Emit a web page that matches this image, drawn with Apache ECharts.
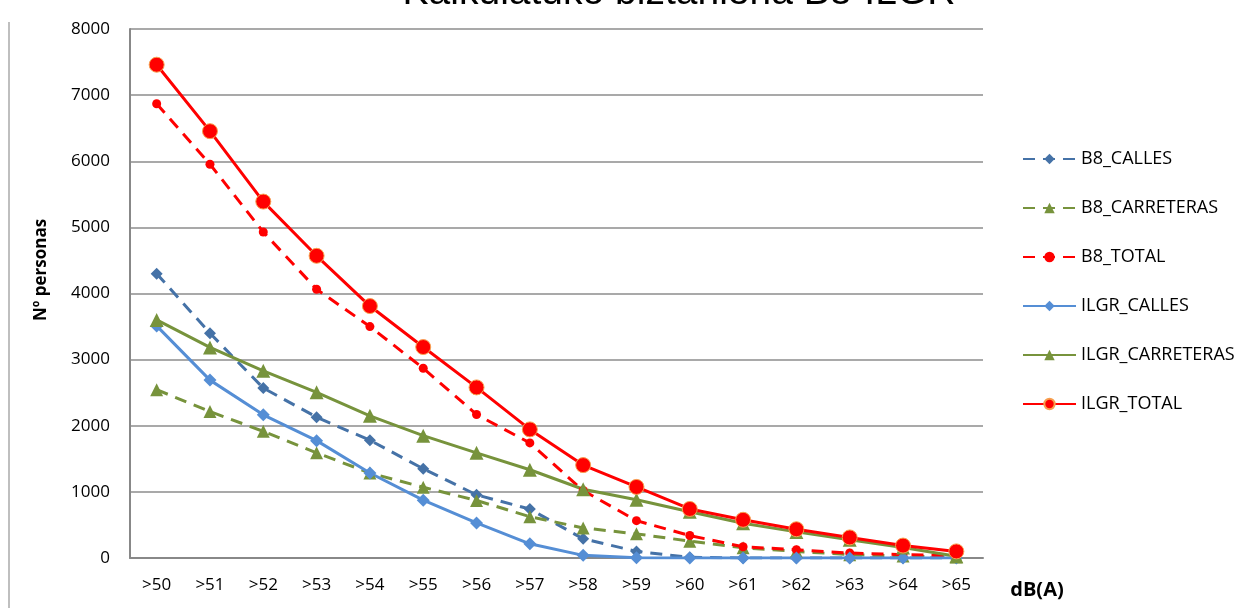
<!DOCTYPE html>
<html>
<head>
<meta charset="utf-8">
<script src="https://cdn.jsdelivr.net/npm/echarts@6/dist/echarts.min.js"></script>
<style>html,body{margin:0;padding:0;background:#fff}#c{width:1250px;height:608px}</style>
</head>
<body>
<div id="c"></div>
<script>
var categories = ['>50','>51','>52','>53','>54','>55','>56','>57','>58','>59','>60','>61','>62','>63','>64','>65'];
var b8Calles       = [4300,3400,2570,2130,1780,1350,955,740,290,100,10,0,0,0,0,0];
var b8Carreteras   = [2545,2215,1915,1590,1285,1070,870,625,455,365,255,155,100,50,30,15];
var b8Total        = [6870,5955,4930,4065,3500,2870,2170,1740,1020,565,340,170,125,75,50,35];
var ilgrCalles     = [3510,2690,2165,1775,1285,875,530,215,40,5,0,0,0,0,0,0];
var ilgrCarreteras = [3600,3185,2830,2505,2150,1850,1590,1335,1040,880,700,525,395,275,160,25];
var ilgrTotal      = [7460,6455,5390,4570,3810,3190,2580,1945,1405,1075,742,578,435,311,188,100];
var yTicks = [0,1000,2000,3000,4000,5000,6000,7000,8000];

var chart = echarts.init(document.getElementById('c'));
var dash = [12, 8];
var F = 'Open Sans, Liberation Sans, sans-serif';
function ser(name, data, color, dashed, symbol, size, extra) {
  var s = {
    name: name, type: 'line', data: data, symbol: symbol, symbolSize: size,
    showAllSymbol: true,
    lineStyle: { color: color, width: 3, type: dashed ? dash : 'solid' },
    itemStyle: { color: color },
    emphasis: { disabled: true },
    animation: false
  };
  if (extra) { s.itemStyle = Object.assign(s.itemStyle, extra); }
  return s;
}
chart.setOption({
  animation: false,
  title: {
    text: 'Kalkulatuko biztanleria B8-ILGR',
    left: 674, textAlign: 'center', top: -31,
    textStyle: { fontFamily: 'Liberation Sans, Arial, sans-serif', fontSize: 39, fontWeight: 'normal', color: '#000' }
  },
  grid: { left: 130, right: 267, top: 29, bottom: 50 },
  legend: {
    orient: 'vertical', left: 1017, top: 145, itemGap: 31, itemWidth: 53, itemHeight: 13,
    textStyle: { fontFamily: F, fontSize: 18, color: '#000' },
    data: ['B8_CALLES','B8_CARRETERAS','B8_TOTAL','ILGR_CALLES','ILGR_CARRETERAS','ILGR_TOTAL']
  },
  xAxis: {
    type: 'category', data: categories, boundaryGap: true,
    axisLine: { lineStyle: { color: '#888', width: 2 } },
    axisTick: { show: false },
    axisLabel: { color: '#000', fontFamily: F, fontSize: 17, margin: 19, interval: 0 }
  },
  yAxis: {
    type: 'value', min: 0, max: 8000, interval: 1000,
    axisLine: { show: true, lineStyle: { color: '#888', width: 2 } },
    axisTick: { show: false },
    splitLine: { lineStyle: { color: '#8c8c8c', width: 1.5 } },
    axisLabel: { color: '#000', fontFamily: F, fontSize: 17, margin: 20,
      formatter: function (v) { return yTicks.indexOf(v) >= 0 ? String(v) : ''; } }
  },
  graphic: [
    { type: 'line', shape: { x1: 9, y1: 22, x2: 9, y2: 608 }, style: { stroke: '#aaa', lineWidth: 1.5 } },
    { type: 'text', x: 41, y: 270, rotation: Math.PI / 2,
      style: { text: 'Nº personas', font: 'bold 17px ' + F, fill: '#000', textAlign: 'center', textVerticalAlign: 'middle' } },
    { type: 'text', x: 1037, y: 590,
      style: { text: 'dB(A)', font: 'bold 20px ' + F, fill: '#000', textAlign: 'center', textVerticalAlign: 'middle' } }
  ],
  series: [
    ser('B8_CALLES', b8Calles, '#4572a7', true, 'diamond', 12),
    ser('B8_CARRETERAS', b8Carreteras, '#77933c', true, 'triangle', 13),
    ser('B8_TOTAL', b8Total, '#ff0000', true, 'circle', 9),
    ser('ILGR_CALLES', ilgrCalles, '#558ed5', false, 'diamond', 13),
    ser('ILGR_CARRETERAS', ilgrCarreteras, '#77933c', false, 'triangle', 14),
    ser('ILGR_TOTAL', ilgrTotal, '#ff0000', false, 'circle', 15, { borderColor: '#f7a050', borderWidth: 1 })
  ]
});
</script>
</body>
</html>
